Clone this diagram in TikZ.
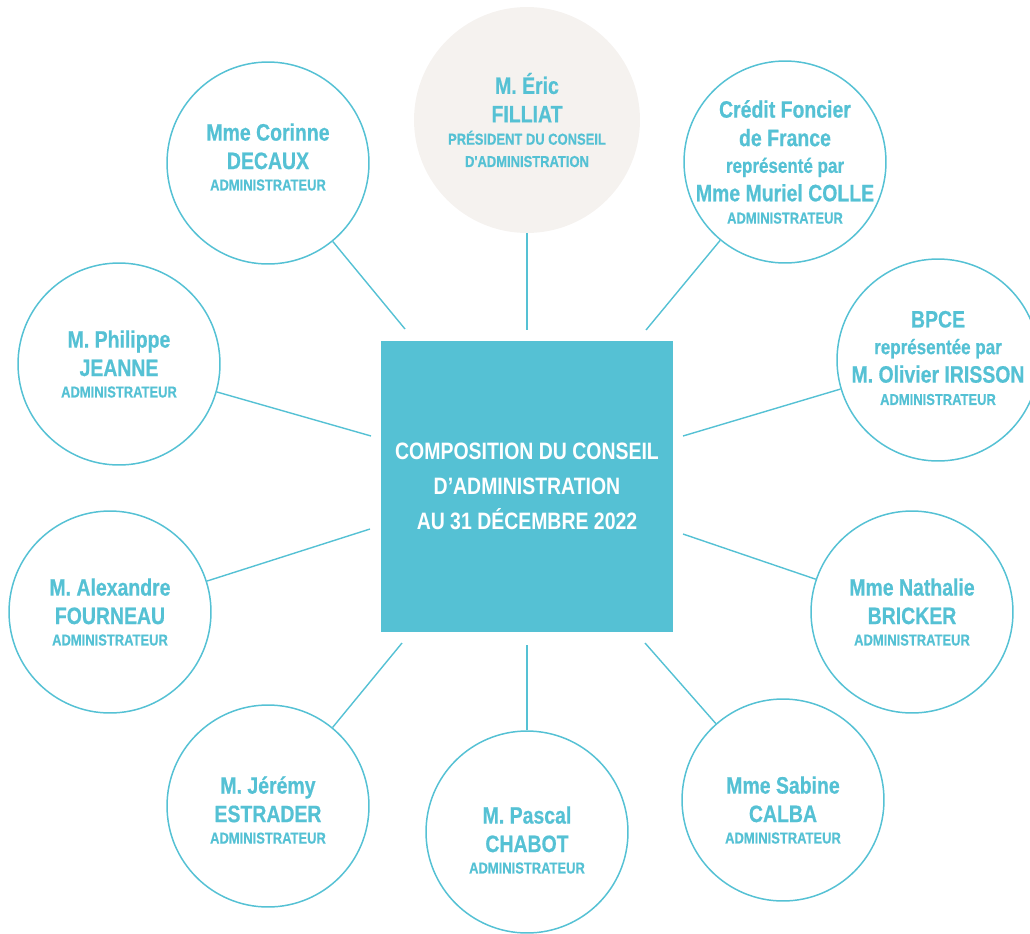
\documentclass[tikz,border=0pt]{standalone}
\usepackage{fontspec}
\usepackage{tikz}
\usetikzlibrary{positioning}
\usepackage{xcolor}

\newfontfamily\condfont[FakeStretch=0.82]{Liberation Sans}
\newfontfamily\heavyfont[FakeStretch=0.82, FakeBold=0.6]{Liberation Sans}
\newcommand{\nmfont}{\heavyfont\bfseries\fontsize{13.5}{16.2}\selectfont}
\newcommand{\rlfont}{\heavyfont\bfseries\fontsize{9}{11}\selectfont}
\newcommand{\rpfont}{\heavyfont\bfseries\fontsize{11.8}{14}\selectfont}
\newcommand{\ttlfont}{\condfont\bfseries\fontsize{13.5}{19.8}\selectfont}

\definecolor{boardcyan}{HTML}{55C1D4}
\definecolor{boardsand}{HTML}{F5F2EF}

\begin{document}
\begin{tikzpicture}[
  x=0.02cm, y=-0.02cm,
  member/.style={circle, draw=boardcyan, line width=0.85pt,
                 minimum size=4.04cm, inner sep=0pt},
  chair/.style={circle, fill=boardsand, minimum size=4.52cm, inner sep=0pt},
  who/.style={align=center, text=boardcyan, font=\nmfont, inner sep=0pt},
  hub/.style={rectangle, fill=boardcyan, minimum width=5.84cm,
              minimum height=5.82cm, text=white, font=\ttlfont, align=center},
  link/.style={draw=boardcyan, line width=0.8pt}
]
  \useasboundingbox (0,0) rectangle (1030,933);

  %--- CENTRE ---
  \node[hub] (hub) at (527,486.5)
    {COMPOSITION DU CONSEIL\\D’ADMINISTRATION\\AU 31 DÉCEMBRE 2022};

  %--- PRESIDENT ---
  \node[chair] (fi) at (527,120) {};
  \node[who] at (fi.center)
    {M. Éric\\FILLIAT\\[-3.5pt]{\rlfont PRÉSIDENT DU CONSEIL}\\[-3.5pt]{\rlfont D'ADMINISTRATION}};

  %--- MEMBERS ---
  \foreach \n/\x/\y in {co/268/163, cf/785/162, bp/938/360, je/119/364,
                        fo/110/612, br/912/612, es/268/806, ch/527/832,
                        ca/783/800}{
    \node[member] (\n) at (\x,\y) {};
  }
  \node[who] at ([yshift=0.12cm]co.center) {Mme Corinne\\DECAUX\\[-4pt]{\rlfont ADMINISTRATEUR}};
  \node[who] at (cf.center)
    {Crédit Foncier\\de France\\[-1pt]{\rpfont représenté par}\\Mme Muriel COLLE\\[-3.5pt]{\rlfont ADMINISTRATEUR}};
  \node[who] at ([yshift=0.04cm]bp.center)
    {BPCE\\[-1pt]{\rpfont représentée par}\\M. Olivier IRISSON\\[-3.5pt]{\rlfont ADMINISTRATEUR}};
  \node[who] at (je.center) {M. Philippe\\JEANNE\\[-4pt]{\rlfont ADMINISTRATEUR}};
  \node[who] at (fo.center) {M. Alexandre\\FOURNEAU\\[-4pt]{\rlfont ADMINISTRATEUR}};
  \node[who] at (br.center) {Mme Nathalie\\BRICKER\\[-4pt]{\rlfont ADMINISTRATEUR}};
  \node[who] at ([yshift=-0.08cm]es.center) {M. Jérémy\\ESTRADER\\[-4pt]{\rlfont ADMINISTRATEUR}};
  \node[who] at ([yshift=-0.16cm]ch.center) {M. Pascal\\CHABOT\\[-4pt]{\rlfont ADMINISTRATEUR}};
  \node[who] at ([yshift=-0.2cm]ca.center) {Mme Sabine\\CALBA\\[-4pt]{\rlfont ADMINISTRATEUR}};

  %--- LINKS ---
  \foreach \n/\x/\y in {fi/527/330, co/405/329, cf/646/330, je/371/436,
                        bp/683/436, fo/370/529, br/683/534, es/402/643,
                        ch/527/645, ca/645/643}{
    \coordinate (\n-end) at (\x,\y);
    \draw[link] (\n) -- (\n-end);
  }

\end{tikzpicture}
\end{document}
